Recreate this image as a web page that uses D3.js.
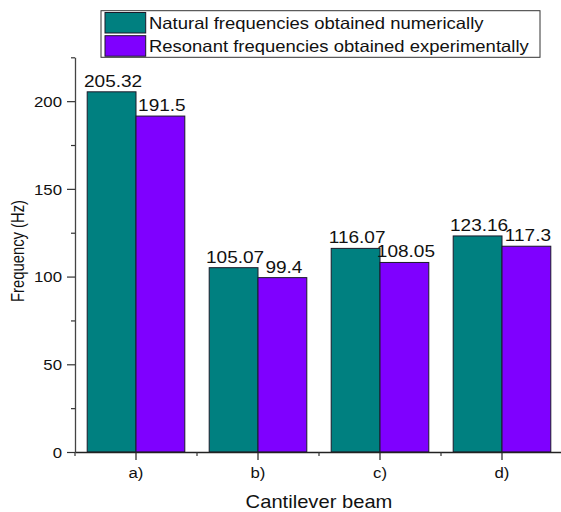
<!DOCTYPE html>
<html><head><meta charset="utf-8">
<script src="https://cdn.jsdelivr.net/npm/d3@7"></script>
<style>
body{margin:0;background:#fff}
text{font-family:"Liberation Sans",Arial,sans-serif;fill:#111}
</style>
</head><body><svg id="c" width="561" height="512"></svg>
<script>
const categories = ["a)", "b)", "c)", "d)"];
const seriesNames = ["Natural frequencies obtained numerically", "Resonant frequencies obtained experimentally"];
const numerical = [205.32, 105.07, 116.07, 123.16];
const experimental = [191.5, 99.4, 108.05, 117.3];
const yMajorTicks = [0, 50, 100, 150, 200];
const yMinorTicks = [25, 75, 125, 175, 225];
const seriesColors = ["#008080", "#7f00ff"];

const SX = 1.12;
const svg = d3.select("#c");
const plotLeft = 75, plotRight = 563, plotTop = 57.3, plotBottom = 452;

const y = d3.scaleLinear().domain([0, 225]).range([plotBottom, plotTop]);
const x = d3.scaleBand().domain(categories).range([plotLeft, plotRight]).paddingInner(0.2).paddingOuter(0.1);
const xs = d3.scaleBand().domain([0, 1]).range([0, x.bandwidth()]);
const series = [numerical, experimental];

function place(sel, px, py) {
  sel.attr("transform", `translate(${px},${py}) scale(${SX},1)`);
}

// bars
series.forEach((vals, si) => {
  svg.append("g").selectAll("rect").data(vals).join("rect")
    .attr("x", (d, i) => x(categories[i]) + xs(si))
    .attr("y", d => y(d))
    .attr("width", xs.bandwidth())
    .attr("height", d => y(0) - y(d))
    .attr("fill", seriesColors[si])
    .attr("stroke", "#1a1a2a").attr("stroke-width", 1);
  svg.append("g").selectAll("text").data(vals).join("text")
    .attr("text-anchor", "middle").attr("font-size", 17)
    .text(d => String(d))
    .each(function(d, i) {
      place(d3.select(this), x(categories[i]) + xs(si) + xs.bandwidth() / 2 + 1.5, y(d) - 5);
    });
});

// y axis
const yAxis = svg.append("g").attr("transform", `translate(${plotLeft},0)`)
  .call(d3.axisLeft(y).tickValues(yMajorTicks).tickSize(8).tickSizeOuter(0).tickPadding(5));
yAxis.attr("font-family", null).attr("font-size", null);
yAxis.select(".domain").attr("stroke", "#444").attr("stroke-width", 1.3);
yAxis.selectAll(".tick line").attr("stroke", "#333").attr("stroke-width", 1.2);
yAxis.selectAll(".tick text").attr("font-size", 15).attr("x", null).attr("dy", "0.35em")
  .style("fill", "#111")
  .each(function() { place(d3.select(this), -13, 0); });
const yMinor = svg.append("g").attr("transform", `translate(${plotLeft},0)`)
  .call(d3.axisLeft(y).tickValues(yMinorTicks).tickSize(4).tickFormat(""));
yMinor.select(".domain").remove();
yMinor.selectAll(".tick line").attr("stroke", "#333").attr("stroke-width", 1.2);

// x axis
const xAxis = svg.append("g").attr("transform", `translate(0,${plotBottom})`)
  .call(d3.axisBottom(x).tickSize(8).tickSizeOuter(0));
xAxis.attr("font-family", null).attr("font-size", null);
xAxis.select(".domain").attr("stroke", "#222").attr("stroke-width", 1.3);
xAxis.selectAll(".tick line").attr("stroke", "#222").attr("stroke-width", 1.2);
xAxis.selectAll(".tick text").attr("font-size", 15).attr("y", null).attr("dy", null)
  .style("fill", "#111")
  .each(function() { place(d3.select(this), 0, 25.5); });
const step = x.step();
const minorX = categories.map(c => x(c) + x.bandwidth() / 2 - step / 2)
  .concat([x(categories[categories.length - 1]) + x.bandwidth() / 2 + step / 2]);
svg.append("g").selectAll("line").data(minorX).join("line")
  .attr("x1", d => d).attr("x2", d => d)
  .attr("y1", plotBottom).attr("y2", plotBottom + 4)
  .attr("stroke", "#333").attr("stroke-width", 1.2);

// axis titles
place(svg.append("text").attr("text-anchor", "middle").attr("font-size", 18).text("Cantilever beam"),
  (plotLeft + plotRight) / 2, 508);
svg.append("text").attr("text-anchor", "middle").attr("font-size", 14.8)
  .attr("transform", `translate(23.5,251) scale(1.25,1) rotate(-90)`)
  .text("Frequency (Hz)");

// legend
const lg = svg.append("g");
lg.append("rect").attr("x", 101).attr("y", 10.7).attr("width", 439).attr("height", 46.6)
  .attr("fill", "#fff").attr("stroke", "#333").attr("stroke-width", 1);
seriesNames.forEach((name, i) => {
  lg.append("rect").attr("x", 105).attr("y", 12.5 + i * 23.2).attr("width", 40.7).attr("height", 20.5)
    .attr("fill", seriesColors[i]).attr("stroke", "#1a1a2a").attr("stroke-width", 1);
  place(lg.append("text").attr("font-size", 16.5).text(name), 149, 29.3 + i * 23);
});
</script>
</body></html>
